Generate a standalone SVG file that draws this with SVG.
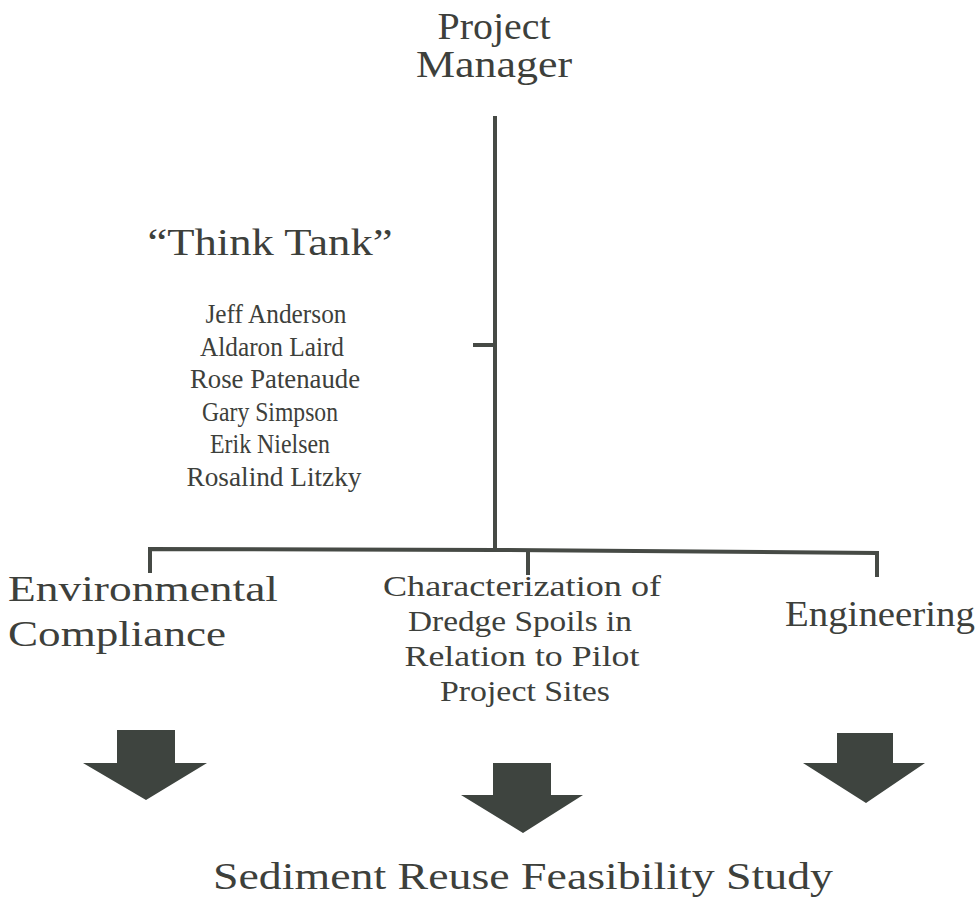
<svg xmlns="http://www.w3.org/2000/svg" width="978" height="921" viewBox="0 0 978 921">
<style>
text{font-family:"Liberation Serif","DejaVu Serif",serif;fill:#3d403b;}
.l{stroke:#464a45;stroke-width:4;fill:none;stroke-linecap:butt;}
.t36{font-size:38px;text-anchor:middle;}
.t26{font-size:28px;text-anchor:middle;}
.t27{font-size:29px;text-anchor:middle;}
.t34{font-size:36px;}
.arrow{fill:#3e443f;}
</style>
<rect width="978" height="921" fill="#ffffff"/>
<g id="connectors">
<line class="l" x1="495" y1="116" x2="495" y2="552"/>
<line class="l" x1="473" y1="345" x2="495" y2="345"/>
<polyline class="l" points="150,573 150,549 495,550 877,553 877,577"/>
<line class="l" x1="528" y1="551" x2="528" y2="575"/>
</g>
<g id="project-manager">
<text class="t36" x="494" y="39" textLength="113" lengthAdjust="spacingAndGlyphs">Project</text>
<text class="t36" x="494" y="77" textLength="156" lengthAdjust="spacingAndGlyphs">Manager</text>
</g>
<g id="think-tank">
<text class="t36" x="270" y="255" textLength="245" lengthAdjust="spacingAndGlyphs">“Think Tank”</text>
<text class="t26" x="276" y="323" textLength="141" lengthAdjust="spacingAndGlyphs">Jeff Anderson</text>
<text class="t26" x="272" y="356" textLength="144" lengthAdjust="spacingAndGlyphs">Aldaron Laird</text>
<text class="t26" x="275" y="388" textLength="170" lengthAdjust="spacingAndGlyphs">Rose Patenaude</text>
<text class="t26" x="270" y="421" textLength="136" lengthAdjust="spacingAndGlyphs">Gary Simpson</text>
<text class="t26" x="270" y="453" textLength="120" lengthAdjust="spacingAndGlyphs">Erik Nielsen</text>
<text class="t26" x="274" y="486" textLength="175" lengthAdjust="spacingAndGlyphs">Rosalind Litzky</text>
</g>
<g id="environmental-compliance">
<text class="t34" x="8" y="601" textLength="270" lengthAdjust="spacingAndGlyphs">Environmental</text>
<text class="t34" x="8" y="646" textLength="218" lengthAdjust="spacingAndGlyphs">Compliance</text>
<polygon class="arrow" points="117,730 175,730 175,763 207,763 146,800 83,763 117,763"/>
</g>
<g id="characterization">
<text class="t27" x="522" y="596" textLength="278" lengthAdjust="spacingAndGlyphs">Characterization of</text>
<text class="t27" x="520" y="631" textLength="224" lengthAdjust="spacingAndGlyphs">Dredge Spoils in</text>
<text class="t27" x="522" y="666" textLength="235" lengthAdjust="spacingAndGlyphs">Relation to Pilot</text>
<text class="t27" x="525" y="701" textLength="170" lengthAdjust="spacingAndGlyphs">Project Sites</text>
<polygon class="arrow" points="493,763 551,763 551,795 583,795 523,833 461,795 493,795"/>
</g>
<g id="engineering">
<text class="t34" x="785" y="626" textLength="190" lengthAdjust="spacingAndGlyphs">Engineering</text>
<polygon class="arrow" points="837,733 893,733 893,763 925,763 866,803 803,763 837,763"/>
</g>
<g id="sediment-reuse">
<text class="t36" x="523" y="889" textLength="620" lengthAdjust="spacingAndGlyphs">Sediment Reuse Feasibility Study</text>
</g>
</svg>
